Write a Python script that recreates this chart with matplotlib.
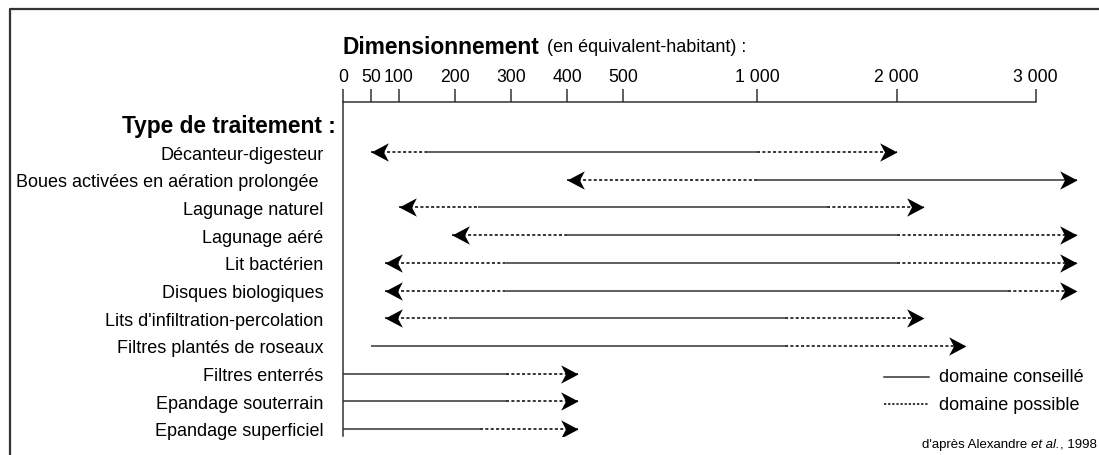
import matplotlib
matplotlib.use("Agg")
import matplotlib.pyplot as plt
import numpy as np
from matplotlib.path import Path
from matplotlib.lines import Line2D

plt.rcParams["font.family"] = ["Liberation Sans", "DejaVu Sans"]

# Data (equivalent-inhabitants)
categories = [
    "Décanteur-digesteur",
    "Boues activées en aération prolongée ",
    "Lagunage naturel",
    "Lagunage aéré",
    "Lit bactérien",
    "Disques biologiques",
    "Lits d'infiltration-percolation",
    "Filtres plantés de roseaux",
    "Filtres enterrés",
    "Epandage souterrain",
    "Epandage superficiel",
]
# lower "possible" limit (None = no lower possible domain)
possible_min = [50, 400, 100, 195, 75, 75, 75, None, None, None, None]
advised_min = [150, 1000, 240, 400, 290, 290, 190, 50, 0, 0, 0]
advised_max = [1000, 3300, 1500, 2000, 2000, 2800, 1200, 1200, 290, 290, 245]
# upper "possible" limit (None = advised domain ends with the arrow)
possible_max = [2000, None, 2200, 3300, 3300, 3300, 2200, 2500, 420, 420, 420]

tick_values = [0, 50, 100, 200, 300, 400, 500, 1000, 2000, 3000]
tick_labels = ["0", "50", "100", "200", "300", "400", "500", "1 000", "2 000", "3 000"]

# piecewise-linear axis as in the original drawing
knot_val = [0, 500, 1000, 3000, 4000]
knot_pos = [0, 280, 414, 692, 830]


def fwd(x):
    return np.interp(x, knot_val, knot_pos)


def inv(p):
    return np.interp(p, knot_pos, knot_val)


W, H = 1099, 456
fig = plt.figure(figsize=(W / 100, H / 100), dpi=100)


def fx(x):
    return x / W


def fy(y):
    return 1 - y / H


ax = fig.add_axes([fx(343), fy(437), fx(1091) - fx(343), fy(103) - fy(437)])
ax.set_xscale("function", functions=(fwd, inv))
ax.set_xlim(0, 3400)
n = len(categories)
ax.set_ylim(n - 1 + 7 / 27.7, -50 / 27.7)

dark = "#333333"
lw = 1.1

# arrow heads (notched)
right_head = Path([(0, 0), (-1, 0.53), (-0.72, 0), (-1, -0.53), (0, 0)],
                  [Path.MOVETO, Path.LINETO, Path.LINETO, Path.LINETO, Path.CLOSEPOLY])
left_head = Path([(0, 0), (1, 0.53), (0.72, 0), (1, -0.53), (0, 0)],
                 [Path.MOVETO, Path.LINETO, Path.LINETO, Path.LINETO, Path.CLOSEPOLY])
dotted = (0, (2, 1.5))

for i in range(n):
    a0, a1 = advised_min[i], advised_max[i]
    ax.plot([a0, a1], [i, i], color=dark, lw=lw, solid_capstyle="butt")
    if possible_min[i] is not None:
        ax.plot([possible_min[i], a0], [i, i], color="black", lw=lw, linestyle=dotted)
        ax.plot(possible_min[i], i, marker=left_head, markersize=25, color="black", mew=0)
    if possible_max[i] is not None:
        ax.plot([a1, possible_max[i]], [i, i], color="black", lw=lw, linestyle=dotted)
        ax.plot(possible_max[i], i, marker=right_head, markersize=25, color="black", mew=0)
    else:
        ax.plot(a1, i, marker=right_head, markersize=25, color="black", mew=0)

# axes styling
for s in ["right", "bottom"]:
    ax.spines[s].set_visible(False)
ax.spines["top"].set_bounds(0, 3000)
for s in ["top", "left"]:
    ax.spines[s].set_color(dark)
    ax.spines[s].set_linewidth(lw)
ax.xaxis.tick_top()
ax.set_xticks(tick_values)
ax.set_xticklabels(tick_labels)
ax.tick_params(axis="x", length=9.5, width=lw, color=dark, pad=3, labelsize=12.7)
ax.set_yticks(range(n))
ax.set_yticklabels(categories)
ax.tick_params(axis="y", length=0, pad=14, labelsize=13)
ax.patch.set_alpha(0)

# titles
fig.text(fx(343), fy(47), "Dimensionnement", fontsize=16.4, fontweight="bold", va="center", ha="left")
fig.text(fx(547), fy(48), "(en équivalent-habitant) :", fontsize=13, va="center", ha="left")
fig.text(fx(336), fy(127), "Type de traitement :", fontsize=16.4, fontweight="bold", va="center", ha="right")

# legend
fig.add_artist(Line2D([fx(884), fx(929)], [fy(378), fy(378)], color=dark, lw=lw))
fig.add_artist(Line2D([fx(884), fx(929)], [fy(405), fy(405)], color="black", lw=lw, linestyle=(0, (1.5, 1.2))))
fig.text(fx(939), fy(378), "domaine conseillé", fontsize=13, va="center", ha="left")
fig.text(fx(939), fy(405), "domaine possible", fontsize=13, va="center", ha="left")

# source note, with italic "et al."
renderer = fig.canvas.get_renderer()
x = 922
for part, style in [("d'après Alexandre ", "normal"), ("et al.", "italic"), (", 1998", "normal")]:
    t = fig.text(fx(x), fy(445), part, fontsize=9.5, style=style, va="center", ha="left")
    x += t.get_window_extent(renderer).width

# frame
fig.add_artist(Line2D([fx(10), fx(10), fx(1099)], [fy(456), fy(10), fy(10)], color=dark, lw=1.6))

fig.savefig("out.png", dpi=100, facecolor="white")
